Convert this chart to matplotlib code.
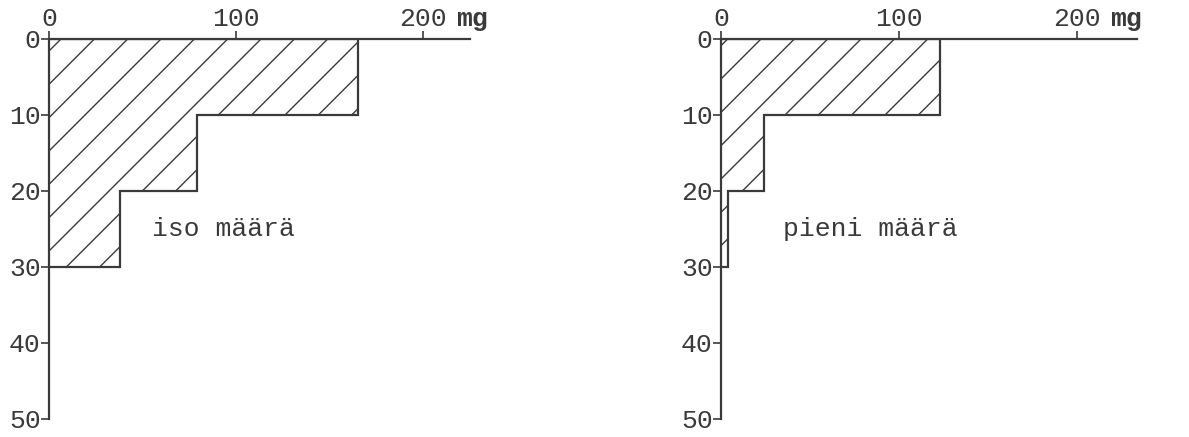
import matplotlib
matplotlib.use("Agg")
import matplotlib.pyplot as plt

# syvyys (cm) ja määrät (mg) luettu kuvasta
depth_edges = [0, 10, 20, 30]
iso_maara = [165, 79, 38]
pieni_maara = [123, 24, 4]

x_ticks = [0, 100, 200]
x_ticklabels = ["0", "100", "200"]
y_ticks = [0, 10, 20, 30, 40, 50]

INK = "#3a3a3a"
FS = 9.5
plt.rcParams["font.family"] = ["Liberation Mono", "DejaVu Sans Mono"]
plt.rcParams["hatch.linewidth"] = 0.5
plt.rcParams["hatch.color"] = INK

W, H = 1189, 437
fig = plt.figure(figsize=(W / 200, H / 200), dpi=200)


def paneeli(px_left, px_right, xmax, values, label, label_x):
    ax = fig.add_axes([px_left / W, 1 - 419 / H, (px_right - px_left) / W, (419 - 39) / H])
    ax.stairs(values, depth_edges, orientation="horizontal", baseline=0, fill=True,
              facecolor="white", edgecolor=INK, hatch="//", linewidth=0.8)
    ax.set_xlim(0, xmax)
    ax.set_ylim(50, 0)
    for s in ("right", "bottom"):
        ax.spines[s].set_visible(False)
    for s in ("top", "left"):
        ax.spines[s].set_color(INK)
        ax.spines[s].set_linewidth(0.8)
    ax.xaxis.tick_top()
    ax.set_xticks(x_ticks)
    ax.set_xticklabels(x_ticklabels)
    ax.set_yticks(y_ticks)
    ax.tick_params(axis="both", colors=INK, labelcolor=INK, labelsize=FS,
                   length=3, width=0.6, pad=0)
    ax.annotate("mg", xy=(200, 0), xycoords="data", xytext=(12, 3),
                textcoords="offset points", fontsize=FS, color=INK,
                fontweight="bold", va="bottom", ha="left")
    ax.text(label_x, 25, label, fontsize=FS, color=INK, va="center")
    return ax


paneeli(49, 470, 225, iso_maara, "iso määrä", 55)
paneeli(721, 1137, 234, pieni_maara, "pieni määrä", 35)

fig.savefig("out.png", dpi=200, facecolor="white")
